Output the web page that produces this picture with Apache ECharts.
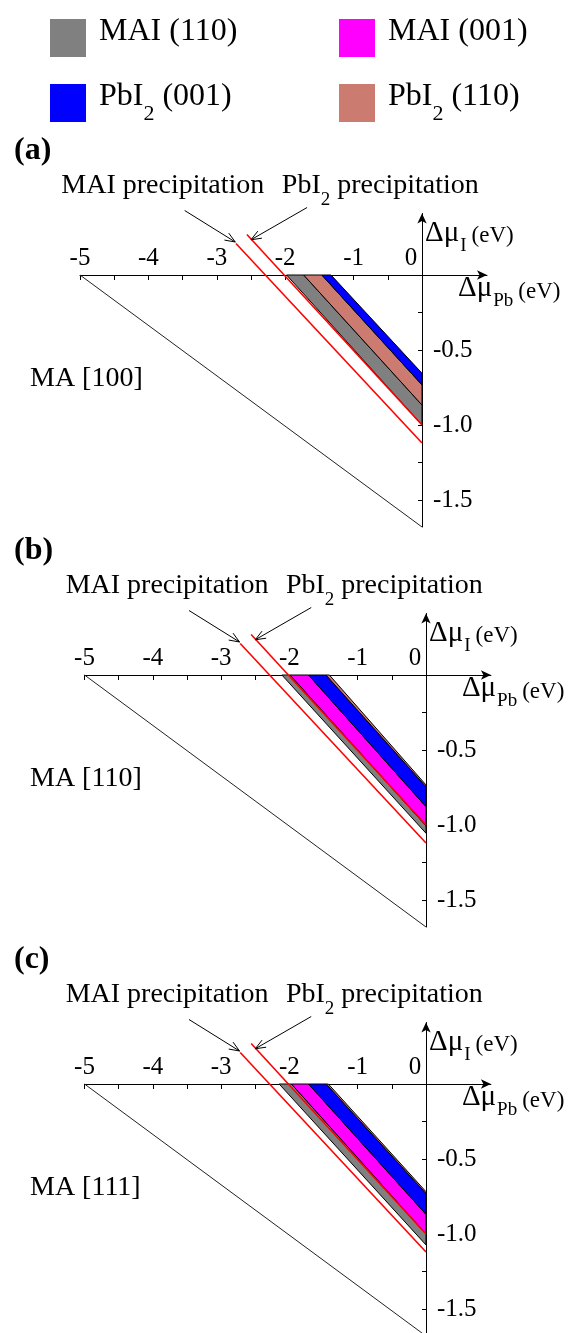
<!DOCTYPE html>
<html>
<head>
<meta charset="utf-8">
<script src="https://cdn.jsdelivr.net/npm/echarts@6/dist/echarts.min.js"></script>
<style>
  html, body { margin: 0; padding: 0; background: #ffffff; }
  #chart { width: 582px; height: 1333px; }
</style>
</head>
<body>
<div id="chart"></div>
<script>
// ---------- data ----------
const panelTags = ['(a)', '(b)', '(c)'];
const orientations = ['MA [100]', 'MA [110]', 'MA [111]'];

const surfaceNames = ['MAI (110)', 'MAI (001)', 'PbI2 (001)', 'PbI2 (110)'];
const surfaceColors = ['#808080', '#ff00ff', '#0000ff', '#cc7b70'];

// tick positions and labelled ticks
const xTicks = [-5, -4.5, -4, -3.5, -3, -2.5, -2, -1.5, -1, -0.5, 0];
const xTickLabels = [-5, -4, -3, -2, -1, 0];
const yTicks = [-1.5, -1.25, -1, -0.75, -0.5, -0.25];
const yTickLabels = [-1.5, -1.0, -0.5];

// MAPbI3 stability triangle edge [Δμ_Pb, Δμ_I]
const stabilityEdge = [[-5, 0], [0, -1.68]];

// precipitation limits [Δμ_Pb, Δμ_I]
const maiPrecipitation = [[-2.72, 0.21], [0, -1.12]];
const pbi2Precipitation = [[-2.56, 0.27], [0, -1.0]];

// band boundaries: [Δμ_Pb where Δμ_I = 0, Δμ_I where Δμ_Pb = 0]
const edgesA = [[-1.98, -1.0], [-1.73, -0.867], [-1.465, -0.733], [-1.33, -0.655]];
const surfacesA = ['MAI (110)', 'PbI2 (110)', 'PbI2 (001)'];

const edgesB = [[-2.11, -1.055], [-1.99, -1.005], [-1.72, -0.878], [-1.464, -0.745], [-1.415, -0.733]];
const surfacesB = ['MAI (110)', 'MAI (001)', 'PbI2 (001)', 'PbI2 (110)'];

const edgesC = [[-2.15, -1.073], [-1.97, -1.0], [-1.72, -0.869], [-1.46, -0.73], [-1.43, -0.718]];
const surfacesC = ['MAI (110)', 'MAI (001)', 'PbI2 (001)', 'PbI2 (110)'];

const noteTexts = ['MAI precipitation', 'PbI2 precipitation'];

// ---------- layout ----------
const SERIF = "'Liberation Serif', 'Times New Roman', 'DejaVu Serif', serif";
const X_MIN = -5, X_MAX = 0.95, Y_MIN = -1.68, Y_MAX = 0.41;

const panels = [
  { edges: edgesA, surfaces: surfacesA, grid: { left: 80, top: 213.5, width: 407, height: 313.5 } },
  { edges: edgesB, surfaces: surfacesB, grid: { left: 84.5, top: 613.5, width: 406.4, height: 313.5 } },
  { edges: edgesC, surfaces: surfacesC, grid: { left: 84.5, top: 1022.5, width: 406.4, height: 313.5 } }
];

// note anchors in data units: label centre, arrow tail, arrow tip
const noteLayout = [
  { at: [-3.79, 0.56], tail: [-3.47, 0.43], tip: [-2.73, 0.22] },
  { at: [-0.61, 0.56], tail: [-1.68, 0.45], tip: [-2.50, 0.235] }
];

function richSub(name, cls) {
  return '{' + cls + '|' + name.replace('PbI2', 'PbI}{s|2}{' + cls + '|') + '}';
}

// Δμ with subscript and unit, all tokens bottom-aligned on one line
const axisNameRich = {
  d: { fontSize: 29, fontFamily: SERIF, color: '#000', lineHeight: 30, padding: [0, 0, 8, 0], verticalAlign: 'bottom' },
  s: { fontSize: 19, fontFamily: SERIF, color: '#000', lineHeight: 20, padding: [0, 0, 0, 1], verticalAlign: 'bottom' },
  e: { fontSize: 23, fontFamily: SERIF, color: '#000', lineHeight: 26, padding: [0, 0, 8, 5], verticalAlign: 'bottom' }
};

const grids = [], xAxes = [], yAxes = [], series = [], titles = [];

panels.forEach((p, i) => {
  const g = p.grid;
  grids.push(Object.assign({ outerBoundsMode: 'none', containLabel: false }, g));
  const zeroY = g.top + (Y_MAX / (Y_MAX - Y_MIN)) * g.height;
  // shift the axes from the grid edges onto the origin lines
  const xOffset = -g.height * (0 - Y_MIN) / (Y_MAX - Y_MIN);
  const yOffset = -g.width * (0 - X_MIN) / (X_MAX - X_MIN);

  xAxes.push({
    type: 'value', gridIndex: i, min: X_MIN, max: X_MAX, position: 'bottom', offset: xOffset,
    axisLine: { show: true, onZero: false, symbol: ['none', 'arrow'], symbolSize: [7, 10],
                lineStyle: { color: '#000', width: 1 } },
    axisTick: { show: true, inside: false, length: 5, customValues: xTicks,
                lineStyle: { color: '#000', width: 1 } },
    axisLabel: {
      show: true, inside: true, margin: 4, customValues: xTickLabels,
      fontSize: 25, fontFamily: SERIF, color: '#000',
      formatter: v => v === 0 ? '{z|0}' : String(v),
      rich: { z: { fontSize: 25, fontFamily: SERIF, color: '#000', padding: [0, 22, 0, 0] } }
    },
    splitLine: { show: false },
    name: '{d|Δμ}{s|Pb}{e|(eV)}', nameLocation: 'end', nameGap: -29, nameMoveOverlap: false,
    nameTextStyle: { align: 'left', verticalAlign: 'top', padding: [6, 0, 0, 0], rich: axisNameRich }
  });

  yAxes.push({
    type: 'value', gridIndex: i, min: Y_MIN, max: Y_MAX, position: 'left', offset: yOffset,
    axisLine: { show: true, onZero: false, symbol: ['none', 'arrow'], symbolSize: [7, 10],
                lineStyle: { color: '#000', width: 1 } },
    axisTick: { show: true, inside: false, length: 4, customValues: yTicks,
                lineStyle: { color: '#000', width: 1 } },
    axisLabel: {
      show: true, inside: true, margin: 11, customValues: yTickLabels,
      fontSize: 25, fontFamily: SERIF, color: '#000',
      formatter: v => v.toFixed(1)
    },
    splitLine: { show: false },
    name: '{d|Δμ}{s|I}{e|(eV)}', nameLocation: 'end', nameGap: -12, nameMoveOverlap: false,
    nameTextStyle: { align: 'left', verticalAlign: 'top', padding: [0, 0, 0, 3], rich: axisNameRich }
  });

  titles.push({
    text: panelTags[i], left: 9, top: zeroY - 145,
    textStyle: { fontSize: 32, fontWeight: 'bold', fontFamily: SERIF, color: '#000' }
  });
  titles.push({
    text: orientations[i], left: 25, top: zeroY + 85,
    textStyle: { fontSize: 28, fontWeight: 'normal', fontFamily: SERIF, color: '#000' }
  });

  // coloured stability bands between consecutive boundaries
  p.surfaces.forEach((name, k) => {
    const lo = p.edges[k], hi = p.edges[k + 1];
    series.push({
      type: 'custom', name: name, xAxisIndex: i, yAxisIndex: i, z: 2, clip: false, silent: true,
      itemStyle: { color: surfaceColors[surfaceNames.indexOf(name)] },
      data: [[lo[0], hi[0], lo[1], hi[1]]],
      renderItem: (params, api) => {
        const a = api.coord([api.value(0), 0]);
        const b = api.coord([api.value(1), 0]);
        const c = api.coord([0, api.value(3)]);
        const d = api.coord([0, api.value(2)]);
        return {
          type: 'polygon', shape: { points: [a, b, c, d] },
          style: { fill: api.visual('color'), stroke: '#000', lineWidth: 1 }
        };
      }
    });
  });

  // stability limit of MAPbI3
  series.push({
    type: 'line', xAxisIndex: i, yAxisIndex: i, z: 1, silent: true,
    symbol: 'none', showSymbol: false, data: stabilityEdge,
    lineStyle: { color: '#222', width: 1 }
  });

  // precipitation limits
  [maiPrecipitation, pbi2Precipitation].forEach(line => {
    series.push({
      type: 'line', xAxisIndex: i, yAxisIndex: i, z: 3, silent: true, clip: false,
      symbol: 'none', showSymbol: false, data: line,
      lineStyle: { color: '#ff0000', width: 1.6 }
    });
  });

  // note arrows
  series.push({
    type: 'custom', xAxisIndex: i, yAxisIndex: i, z: 4, clip: false, silent: true,
    data: noteLayout.map(n => [n.tail[0], n.tail[1], n.tip[0], n.tip[1]]),
    renderItem: (params, api) => {
      const t = api.coord([api.value(0), api.value(1)]);
      const h = api.coord([api.value(2), api.value(3)]);
      const ang = Math.atan2(h[1] - t[1], h[0] - t[0]);
      const L = 11, w = 0.38;
      const h1 = [h[0] - L * Math.cos(ang - w), h[1] - L * Math.sin(ang - w)];
      const h2 = [h[0] - L * Math.cos(ang + w), h[1] - L * Math.sin(ang + w)];
      return {
        type: 'group', children: [
          { type: 'line', shape: { x1: t[0], y1: t[1], x2: h[0], y2: h[1] },
            style: { stroke: '#000', lineWidth: 1 } },
          { type: 'polyline', shape: { points: [h1, h, h2] },
            style: { stroke: '#000', lineWidth: 1, fill: null } }
        ]
      };
    }
  });

  // note labels
  series.push({
    type: 'custom', xAxisIndex: i, yAxisIndex: i, z: 4, clip: false, silent: true,
    data: noteLayout.map(n => [n.at[0], n.at[1]]),
    renderItem: (params, api) => {
      const c = api.coord([api.value(0), api.value(1)]);
      return {
        type: 'text',
        style: {
          x: c[0], y: c[1], align: 'center', verticalAlign: 'middle',
          text: richSub(noteTexts[params.dataIndex], 'n'),
          rich: {
            n: { fontSize: 28, fontFamily: SERIF, fill: '#000', lineHeight: 38, verticalAlign: 'top' },
            s: { fontSize: 19, fontFamily: SERIF, fill: '#000', lineHeight: 20, padding: [18, 0, 0, 0], verticalAlign: 'bottom' }
          }
        }
      };
    }
  });
});

const legendText = {
  fontSize: 32, fontFamily: SERIF, color: '#000', padding: [0, 0, 0, 8],
  rich: {
    n: { fontSize: 32, fontFamily: SERIF, color: '#000', lineHeight: 44, verticalAlign: 'top' },
    s: { fontSize: 22, fontFamily: SERIF, color: '#000', lineHeight: 22, padding: [22, 0, 0, 0], verticalAlign: 'bottom' }
  }
};
const legendBase = {
  orient: 'vertical', top: 11, icon: 'rect', itemWidth: 36, itemHeight: 38, itemGap: 24,
  selectedMode: false, textStyle: legendText,
  formatter: name => richSub(name, 'n')
};

const chart = echarts.init(document.getElementById('chart'), null, { renderer: 'canvas' });
chart.setOption({
  animation: false,
  backgroundColor: '#ffffff',
  title: titles,
  legend: [
    Object.assign({ left: 45, data: [surfaceNames[0], surfaceNames[2]] }, legendBase),
    Object.assign({ left: 334, data: [surfaceNames[1], surfaceNames[3]] }, legendBase)
  ],
  grid: grids,
  xAxis: xAxes,
  yAxis: yAxes,
  series: series
});
</script>
</body>
</html>
